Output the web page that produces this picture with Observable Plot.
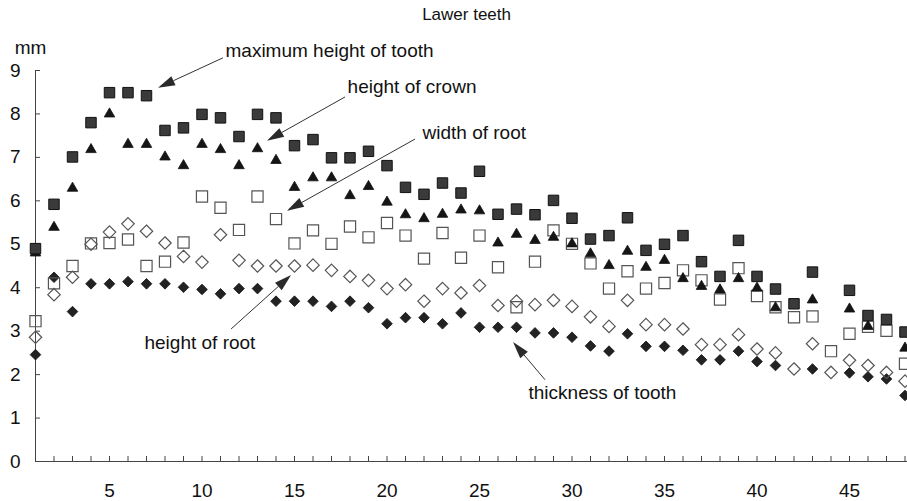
<!DOCTYPE html>
<html>
<head>
<meta charset="utf-8">
<script src="https://cdn.jsdelivr.net/npm/d3@7"></script>
<script src="https://cdn.jsdelivr.net/npm/@observablehq/plot@0.6"></script>
<style>
  html, body { margin: 0; padding: 0; background: #fff; }
  #chart svg { display: block; }
</style>
</head>
<body>
<div id="chart"></div>
<script>
// ---- data ----
const toothNo = [1,2,3,4,5,6,7,8,9,10,11,12,13,14,15,16,17,18,19,20,21,22,23,24,
                 25,26,27,28,29,30,31,32,33,34,35,36,37,38,39,40,41,42,43,44,45,46,47,48];

const maxHeight = [4.90,5.92,7.01,7.80,8.49,8.49,8.42,7.62,7.68,7.99,
                   7.91,7.48,7.99,7.91,7.27,7.41,6.99,6.99,7.14,6.81,
                   6.31,6.15,6.41,6.18,6.68,5.69,5.81,5.68,6.01,5.60,
                   5.12,5.20,5.61,4.86,5.00,5.20,4.60,4.26,5.09,4.26,
                   3.97,3.63,4.36,null,3.94,3.36,3.27,2.98];

const crownHeight = [4.80,5.39,6.29,7.18,8.00,7.30,7.30,7.01,6.81,7.30,
                     7.18,6.81,7.20,6.93,6.31,6.53,6.53,6.12,6.33,5.97,
                     5.68,5.59,5.69,5.79,5.77,5.03,5.23,5.09,5.16,5.01,
                     4.78,4.51,4.84,4.47,4.63,4.21,4.03,3.95,4.21,3.99,
                     3.54,null,3.72,null,3.51,3.11,null,2.61];

const rootWidth = [3.23,4.10,4.50,5.02,5.03,5.11,4.50,4.60,5.04,6.10,
                   5.84,5.33,6.10,5.58,5.02,5.32,5.01,5.41,5.16,5.49,
                   5.20,4.67,5.26,4.69,5.20,4.47,3.55,4.60,5.32,5.01,
                   4.56,3.98,4.38,3.98,4.11,4.40,4.17,3.73,4.45,3.81,
                   3.55,3.32,3.34,2.54,2.94,3.10,3.01,2.25];

const rootHeight = [2.86,3.84,4.24,5.00,5.28,5.47,5.30,5.03,4.72,4.59,
                    5.22,4.63,4.50,4.50,4.50,4.52,4.40,4.26,4.17,3.98,
                    4.07,3.69,3.98,3.88,4.05,3.59,3.69,3.61,3.71,3.57,
                    3.33,3.11,3.71,3.15,3.15,3.05,2.69,2.69,2.92,2.59,
                    2.50,2.13,2.71,2.05,2.33,2.21,2.05,1.85];

const thickness = [2.46,4.24,3.45,4.09,4.09,4.14,4.09,4.09,4.01,3.96,
                   3.86,3.98,3.98,3.69,3.69,3.69,3.57,3.69,3.54,3.17,
                   3.31,3.31,3.17,3.42,3.09,3.09,3.09,2.96,2.96,2.86,
                   2.66,2.54,2.94,2.65,2.65,2.56,2.34,2.34,2.54,2.30,
                   2.21,null,2.13,null,2.04,1.95,1.90,1.52];

const xTickLabels = [5,10,15,20,25,30,35,40,45];
const yTickLabels = [0,1,2,3,4,5,6,7,8,9];
const xMinorTicks = toothNo.slice(1);

const title = "Lawer teeth";
const unitLabel = "mm";

// annotation labels and their arrows (data coordinates)
const labels = [
  {text: "maximum height of tooth", x: 11.27, y: 9.46},
  {text: "height of crown",         x: 17.87, y: 8.63},
  {text: "width of root",           x: 21.92, y: 7.57},
  {text: "height of root",          x: 6.89,  y: 2.74},
  {text: "thickness of tooth",      x: 27.65, y: 1.59}
];
const arrows = [
  {x1: 11.16, y1: 9.28, x2: 7.65,  y2: 8.59},
  {x1: 17.76, y1: 8.38, x2: 13.54, y2: 7.37},
  {x1: 21.54, y1: 7.41, x2: 14.62, y2: 5.76},
  {x1: 11.60, y1: 3.04, x2: 14.84, y2: 4.28},
  {x1: 28.57, y1: 1.87, x2: 26.84, y2: 2.74}
];

const series = (values) => toothNo.map((t, i) => ({tooth: t, value: values[i]}));

// custom render mark: thin line with filled triangular arrowhead
const arrowMark = (index, scales) => {
  const g = d3.create("svg:g");
  for (const a of arrows) {
    const x1 = scales.x(a.x1), y1 = scales.y(a.y1);
    const x2 = scales.x(a.x2), y2 = scales.y(a.y2);
    const ang = Math.atan2(y2 - y1, x2 - x1);
    const L = 17, W = 5;
    const bx = x2 - L * Math.cos(ang), by = y2 - L * Math.sin(ang);
    const ox = -Math.sin(ang) * W, oy = Math.cos(ang) * W;
    g.append("line")
      .attr("x1", x1).attr("y1", y1).attr("x2", bx).attr("y2", by)
      .attr("stroke", "#333").attr("stroke-width", 1);
    g.append("path")
      .attr("d", `M${x2},${y2}L${bx + ox},${by + oy}L${bx - ox},${by - oy}Z`)
      .attr("fill", "#2a2a2a");
  }
  return g.node();
};

const font = "'Liberation Sans', Arial, Helvetica, sans-serif";

const chart = Plot.plot({
  width: 907,
  height: 501,
  marginLeft: 35,
  marginRight: 0,
  marginTop: 70,
  marginBottom: 40,
  style: {fontFamily: font, fontSize: "19px", background: "#fff", color: "#111"},
  x: {domain: [1, 48.135]},
  y: {domain: [0, 9]},
  marks: [
    // axes
    Plot.ruleY([0], {stroke: "#444", strokeWidth: 1}),
    Plot.ruleX([1], {y1: 0, y2: 9, stroke: "#444", strokeWidth: 1}),
    Plot.tickX(xMinorTicks, {x: d => d, insetTop: 386, stroke: "#444", strokeWidth: 1}),
    Plot.tickY(yTickLabels, {y: d => d, insetRight: 867, stroke: "#444", strokeWidth: 1}),
    Plot.axisX({ticks: xTickLabels, tickSize: 0, tickPadding: 22, fontSize: 19, label: null, fill: "#111"}),
    Plot.axisY({ticks: yTickLabels, tickSize: 0, tickPadding: 15, fontSize: 19, label: null, fill: "#111"}),

    // series
    Plot.dot(series(thickness), {x: "tooth", y: "value", symbol: "diamond2", r: 4.8, fill: "#222", stroke: "#111", strokeWidth: 0.8}),
    Plot.dot(series(rootHeight), {x: "tooth", y: "value", symbol: "diamond2", r: 5.6, fill: "none", stroke: "#555", strokeWidth: 1.2}),
    Plot.dot(series(rootWidth), {x: "tooth", y: "value", symbol: "square", r: 6.3, fill: "none", stroke: "#555", strokeWidth: 1.2}),
    Plot.dot(series(crownHeight), {x: "tooth", y: "value", symbol: "triangle", r: 3.9, fill: "#151515", stroke: "#111", strokeWidth: 0.8}),
    Plot.dot(series(maxHeight), {x: "tooth", y: "value", symbol: "square", r: 5.9, fill: "#3a3a3a", stroke: "#111", strokeWidth: 1}),

    // annotations
    arrowMark,
    Plot.text(labels, {x: "x", y: "y", text: "text", textAnchor: "start", fontSize: 19, fill: "#111"}),
    Plot.text([title], {x: 24.3, y: 10.29, text: d => d, fontSize: 17, fill: "#111"}),
    Plot.text([unitLabel], {x: 0.73, y: 9.53, text: d => d, fontSize: 19, fill: "#111"})
  ]
});
document.getElementById("chart").append(chart);
</script>
</body>
</html>
